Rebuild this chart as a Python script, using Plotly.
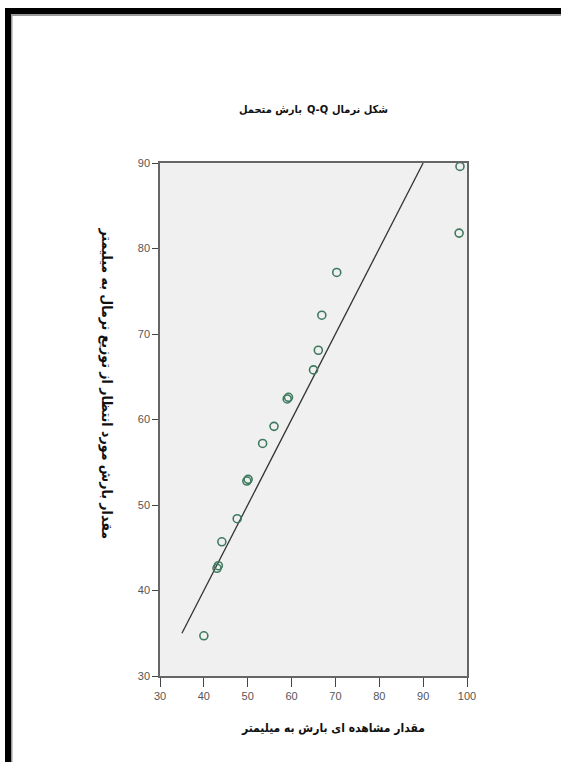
import plotly.graph_objects as go

# Observed precipitation (x) and expected normal values (y)
observed = [40.0, 43.0, 43.3, 44.1, 47.6, 49.8, 50.1, 53.4, 56.0, 59.0, 59.3,
            65.0, 66.1, 66.9, 70.3, 98.2, 98.4]
expected = [34.7, 42.6, 42.9, 45.7, 48.4, 52.8, 53.0, 57.2, 59.2, 62.4, 62.6,
            65.8, 68.1, 72.2, 77.2, 81.8, 89.6]
ref_line = [35, 90]
x_ticks = [30, 40, 50, 60, 70, 80, 90, 100]
y_ticks = [30, 40, 50, 60, 70, 80, 90]

# title "شکل نرمال Q-Q بارش متحمل", drawn right-to-left in three pieces
title_first = "شکل نرمال"     # rightmost
title_mid = "Q-Q"
title_last = "بارش متحمل"     # leftmost
x_title = "مقدار مشاهده ای بارش به میلیمتر"
y_title = "مقدار بارش مورد انتظار از توزیع نرمال به میلیمتر"

W, H = 561, 762
L, R, T, B = 160, 467, 163, 676

def px_x(p):
    return (p - L) / (R - L)

def px_y(p):
    return (B - p) / (B - T)

fig = go.Figure()
fig.add_trace(go.Scatter(
    x=ref_line, y=ref_line, mode="lines",
    line=dict(color="#333333", width=1.3), hoverinfo="skip", showlegend=False))
fig.add_trace(go.Scatter(
    x=observed, y=expected, mode="markers",
    marker=dict(symbol="circle-open", size=8, color="#3f7a5f",
                line=dict(width=1.6, color="#3f7a5f")),
    showlegend=False))

tick_font = dict(family="Liberation Sans Narrow, Liberation Sans, sans-serif",
                 size=11, color="#555555")
common_axis = dict(showgrid=False, zeroline=False, showline=True, mirror=True,
                   linecolor="#666666", linewidth=1.5, ticks="outside",
                   tickcolor="#444444", tickwidth=1.2, tickfont=tick_font)

ar_font = "DejaVu Sans Condensed, DejaVu Sans"
title_font = dict(family=ar_font, size=11, color="#111111")
title_y = px_y(101)

fig.update_layout(
    width=W, height=H,
    margin=dict(l=L, r=W - R, t=T, b=H - B),
    paper_bgcolor="white", plot_bgcolor="#f0f0f0",
    xaxis=dict(range=[30, 100], tickvals=x_ticks, ticklen=9, **common_axis),
    yaxis=dict(range=[30, 90], tickvals=y_ticks, ticklen=6, **common_axis),
    shapes=[
        dict(type="rect", xref="paper", yref="paper",
             x0=px_x(5), x1=px_x(561), y0=px_y(14), y1=px_y(8),
             fillcolor="black", line=dict(width=0), layer="above"),
        dict(type="rect", xref="paper", yref="paper",
             x0=px_x(11), x1=px_x(561), y0=px_y(16), y1=px_y(14),
             fillcolor="#9a9a9a", line=dict(width=0), layer="above"),
        dict(type="rect", xref="paper", yref="paper",
             x0=px_x(5), x1=px_x(11), y0=px_y(762), y1=px_y(8),
             fillcolor="black", line=dict(width=0), layer="above"),
        dict(type="rect", xref="paper", yref="paper",
             x0=px_x(11), x1=px_x(12.5), y0=px_y(762), y1=px_y(14),
             fillcolor="#9a9a9a", line=dict(width=0), layer="above"),
    ],
    annotations=[
        dict(text="<b>" + title_last + "</b>", xref="paper", yref="paper",
             x=px_x(304), y=title_y, xanchor="right", showarrow=False,
             font=title_font),
        dict(text="<b>" + title_mid + "</b>", xref="paper", yref="paper",
             x=px_x(305), y=title_y, xanchor="left", showarrow=False,
             font=title_font),
        dict(text="<b>" + title_first + "</b>", xref="paper", yref="paper",
             x=px_x(330), y=title_y, xanchor="left", showarrow=False,
             font=title_font),
        dict(text="<b>" + x_title + "</b>", xref="paper", yref="paper",
             x=px_x(333), y=px_y(737), showarrow=False,
             font=dict(family=ar_font, size=12, color="#111111")),
        dict(text="<b>" + y_title + "</b>", xref="paper", yref="paper",
             x=px_x(96), y=px_y(383), showarrow=False, textangle=90,
             font=dict(family=ar_font, size=14, color="#111111")),
    ],
)

fig.write_html(
    "out.html",
    config={"displayModeBar": False},
    post_script="document.body.style.margin='0';"
                "document.documentElement.style.overflow='hidden';",
)
